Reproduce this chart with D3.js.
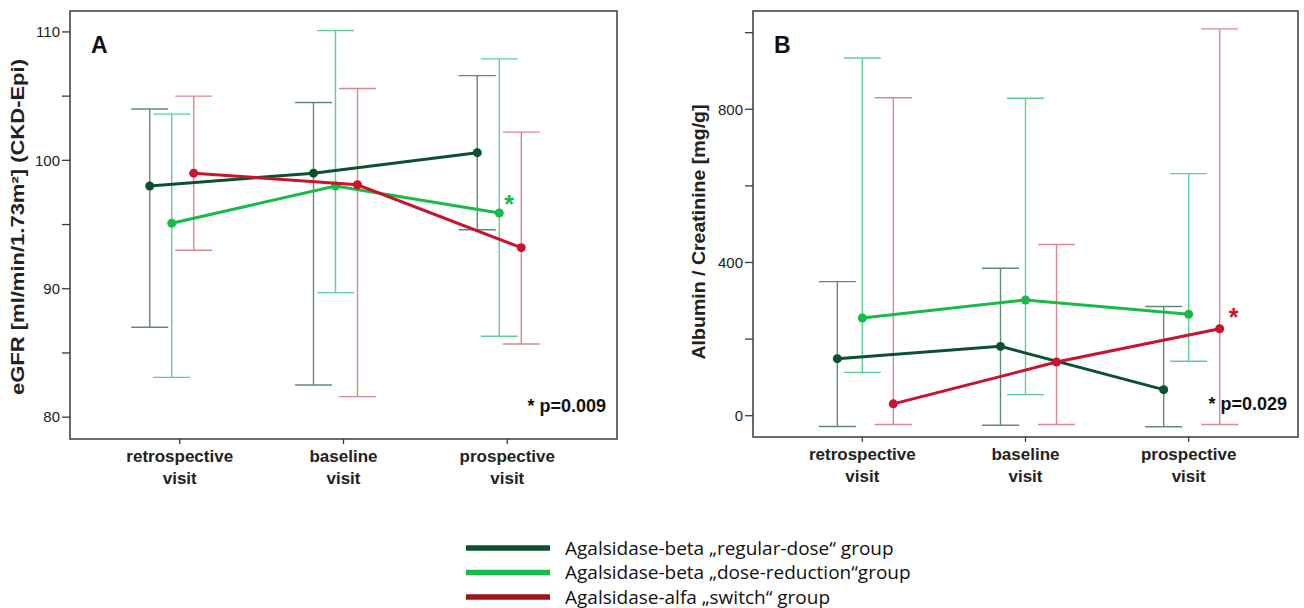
<!DOCTYPE html>
<meta charset="utf-8">
<head>
  <title>eGFR and albumin/creatinine by visit</title>
</head>
<style>
  body { margin: 0; background: #fff; }
  svg text { font-family: "Liberation Sans", Arial, sans-serif; }
</style>

<!-- Load d3.js -->
<script src="https://d3js.org/d3.v7.min.js"></script>

<div id="my_dataviz"></div>

<script>
  // categories and groups
  var visits = ["retrospective visit", "baseline visit", "prospective visit"];
  var groups = ["Agalsidase-beta \u201eregular-dose\u201c group",
                "Agalsidase-beta \u201edose-reduction\u201cgroup",
                "Agalsidase-alfa \u201eswitch\u201c group"];

  // panel A: eGFR (mean, lower, upper) per group, one value per visit
  var egfrRegularMean = [98.0, 99.0, 100.6];
  var egfrRegularLow  = [87.0, 82.5, 94.6];
  var egfrRegularHigh = [104.0, 104.5, 106.6];
  var egfrReductionMean = [95.1, 98.0, 95.9];
  var egfrReductionLow  = [83.1, 89.7, 86.3];
  var egfrReductionHigh = [103.6, 110.1, 107.9];
  var egfrSwitchMean = [99.0, 98.1, 93.2];
  var egfrSwitchLow  = [93.0, 81.6, 85.7];
  var egfrSwitchHigh = [105.0, 105.6, 102.2];
  var egfrTicks = [80, 85, 90, 95, 100, 105, 110];
  var egfrLabels = [80, 90, 100, 110];

  // panel B: albumin / creatinine
  var uacrRegularMean = [149, 181, 68];
  var uacrRegularLow  = [-28, -25, -29];
  var uacrRegularHigh = [350, 385, 285];
  var uacrReductionMean = [255, 302, 265];
  var uacrReductionLow  = [113, 55, 142];
  var uacrReductionHigh = [934, 829, 632];
  var uacrSwitchMean = [31, 140, 227];
  var uacrSwitchLow  = [-23, -23, -23];
  var uacrSwitchHigh = [830, 447, 1010];
  var uacrTicks = [0, 200, 400, 600, 800, 1000];
  var uacrLabels = [0, 400, 800];

  var lineColors = ["#0b5130", "#17bb48", "#c8142c"];
  var barColors = ["#5e8a7b", "#5ccf97", "#d98892"];
  var legendColors = ["#0b5130", "#17bb48", "#a0121e"];

  var svg = d3.select("#my_dataviz")
    .append("svg")
    .attr("width", 1304)
    .attr("height", 608);

  function drawPanel(opt) {
    var g = svg.append("g")
      .attr("transform", "translate(" + opt.left + "," + opt.top + ")");

    var x = d3.scalePoint()
      .domain(visits)
      .range([0, opt.width])
      .padding(0.67);

    var y = d3.scaleLinear()
      .domain(opt.domain)
      .range([opt.height, 0]);

    // frame
    g.append("rect")
      .attr("width", opt.width)
      .attr("height", opt.height)
      .attr("fill", "none")
      .attr("stroke", "#3a3a3a")
      .attr("stroke-width", 1.5);

    // Y axis ticks and labels
    g.selectAll(".ytick")
      .data(opt.ticks)
      .enter().append("line")
      .attr("x1", -8).attr("x2", 0)
      .attr("y1", function(d) { return y(d); })
      .attr("y2", function(d) { return y(d); })
      .attr("stroke", "#3a3a3a")
      .attr("stroke-width", 1.3);
    g.selectAll(".ylab")
      .data(opt.labels)
      .enter().append("text")
      .attr("x", -10)
      .attr("y", function(d) { return y(d); })
      .attr("dy", "0.35em")
      .attr("text-anchor", "end")
      .style("font-size", "15px")
      .style("fill", "#222")
      .text(function(d) { return d; });

    // X axis ticks and two-line labels
    g.selectAll(".xtick")
      .data(visits)
      .enter().append("line")
      .attr("x1", function(d) { return x(d); })
      .attr("x2", function(d) { return x(d); })
      .attr("y1", opt.height)
      .attr("y2", opt.height + 5)
      .attr("stroke", "#3a3a3a")
      .attr("stroke-width", 1.3);
    var xl = g.selectAll(".xlab")
      .data(visits)
      .enter().append("text")
      .attr("text-anchor", "middle")
      .style("font-size", "17px")
      .style("font-weight", "bold")
      .style("fill", "#222");
    xl.append("tspan")
      .attr("x", function(d) { return x(d); })
      .attr("y", opt.height + 23)
      .text(function(d) { return d.split(" ")[0]; });
    xl.append("tspan")
      .attr("x", function(d) { return x(d); })
      .attr("y", opt.height + 45)
      .text(function(d) { return d.split(" ")[1]; });

    // text label for the y axis
    g.append("text")
      .attr("transform", "rotate(-90)")
      .attr("x", -opt.labelY)
      .attr("y", opt.labelX)
      .attr("text-anchor", "middle")
      .attr("textLength", opt.labelLen)
      .attr("lengthAdjust", "spacingAndGlyphs")
      .style("font-size", "17.5px")
      .style("font-weight", "bold")
      .style("fill", "#222")
      .text(opt.yTitle);

    // panel letter
    g.append("text")
      .attr("x", 21)
      .attr("y", 42)
      .style("font-size", "23px")
      .style("font-weight", "bold")
      .style("fill", "#111")
      .text(opt.letter);

    // error bars then mean lines for each group
    opt.series.forEach(function(s, i) {
      var off = opt.offsets[i];
      var pts = visits.map(function(v, j) {
        return { x: x(v) + off, mean: s.mean[j], low: s.low[j], high: s.high[j] };
      });
      var eb = g.append("g")
        .attr("stroke", barColors[i])
        .attr("stroke-width", 1.4);
      eb.selectAll(".stem").data(pts).enter().append("line")
        .attr("x1", function(d) { return d.x; })
        .attr("x2", function(d) { return d.x; })
        .attr("y1", function(d) { return y(d.low); })
        .attr("y2", function(d) { return y(d.high); });
      eb.selectAll(".capl").data(pts).enter().append("line")
        .attr("x1", function(d) { return d.x - 18.5; })
        .attr("x2", function(d) { return d.x + 18.5; })
        .attr("y1", function(d) { return y(d.low); })
        .attr("y2", function(d) { return y(d.low); });
      eb.selectAll(".caph").data(pts).enter().append("line")
        .attr("x1", function(d) { return d.x - 18.5; })
        .attr("x2", function(d) { return d.x + 18.5; })
        .attr("y1", function(d) { return y(d.high); })
        .attr("y2", function(d) { return y(d.high); });
    });
    opt.series.forEach(function(s, i) {
      var off = opt.offsets[i];
      var pts = visits.map(function(v, j) {
        return [x(v) + off, y(s.mean[j])];
      });
      g.append("path")
        .attr("d", d3.line()(pts))
        .attr("fill", "none")
        .attr("stroke", lineColors[i])
        .attr("stroke-width", 3);
      g.selectAll(".dot" + i)
        .data(pts)
        .enter().append("circle")
        .attr("cx", function(d) { return d[0]; })
        .attr("cy", function(d) { return d[1]; })
        .attr("r", 4.5)
        .attr("fill", lineColors[i]);
    });

    // significance star and p value
    var sIdx = opt.star.group;
    g.append("text")
      .attr("x", x(visits[2]) + opt.offsets[sIdx] + opt.star.dx)
      .attr("y", y(opt.series[sIdx].mean[2]) + opt.star.dy)
      .style("font-size", "25px")
      .style("font-weight", "bold")
      .style("fill", lineColors[sIdx])
      .text("*");
    g.append("text")
      .attr("x", opt.width - 11)
      .attr("y", opt.height - 27)
      .attr("text-anchor", "end")
      .style("font-size", "18px")
      .style("font-weight", "bold")
      .style("fill", "#111")
      .text(opt.pText);
  }

  drawPanel({
    left: 70, top: 11, width: 547, height: 428,
    domain: [78.3, 111.63],
    ticks: egfrTicks, labels: egfrLabels,
    offsets: [-30, -8, 14],
    letter: "A",
    yTitle: "eGFR [ml/min/1.73m\u00b2] (CKD-Epi)",
    labelX: -46, labelY: 216, labelLen: 336,
    series: [
      { mean: egfrRegularMean, low: egfrRegularLow, high: egfrRegularHigh },
      { mean: egfrReductionMean, low: egfrReductionLow, high: egfrReductionHigh },
      { mean: egfrSwitchMean, low: egfrSwitchLow, high: egfrSwitchHigh }
    ],
    star: { group: 1, dx: 5, dy: 0 },
    pText: "* p=0.009"
  });

  drawPanel({
    left: 753, top: 11, width: 545, height: 426,
    domain: [-55.6, 1056.6],
    ticks: uacrTicks, labels: uacrLabels,
    offsets: [-25, 0, 31],
    letter: "B",
    yTitle: "Albumin / Creatinine [mg/g]",
    labelX: -48, labelY: 221, labelLen: 255,
    series: [
      { mean: uacrRegularMean, low: uacrRegularLow, high: uacrRegularHigh },
      { mean: uacrReductionMean, low: uacrReductionLow, high: uacrReductionHigh },
      { mean: uacrSwitchMean, low: uacrSwitchLow, high: uacrSwitchHigh }
    ],
    star: { group: 2, dx: 9, dy: -3 },
    pText: "* p=0.029"
  });

  // legend
  var legend = svg.append("g");
  groups.forEach(function(name, i) {
    var ly = 548 + i * 24.5;
    legend.append("line")
      .attr("x1", 466).attr("x2", 550)
      .attr("y1", ly).attr("y2", ly)
      .attr("stroke", legendColors[i])
      .attr("stroke-width", 5.5);
    legend.append("text")
      .attr("x", 565)
      .attr("y", ly + 6.5)
      .style("font-family", "'Open Sans', Lato, sans-serif")
      .style("font-size", "19px")
      .style("fill", "#111")
      .text(name);
  });
</script>
